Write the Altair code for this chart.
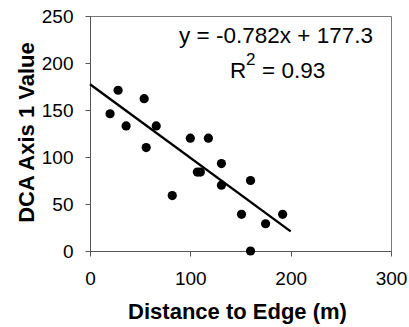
import altair as alt
import pandas as pd

# Scatter data
dist = [20, 28, 36, 54, 56, 66, 82, 100, 107, 110, 118, 131, 131, 151, 160, 160, 175, 192]
dca = [146, 171, 133, 162, 110, 133, 59, 120, 84, 84, 120, 93, 70, 39, 75, 0, 29, 39]

# Fitted trend line endpoints (y = -0.782x + 177.3)
fit_x = [0, 200]
fit_y = [177.3, 20.9]

eq_text = "y = -0.782x + 177.3"
r2_parts = ["R", "2", "= 0.93"]

pts = pd.DataFrame({"x": dist, "y": dca})
fit = pd.DataFrame({"x": fit_x, "y": fit_y})

FONT = "Liberation Sans"

xscale = alt.Scale(domain=[0, 300], nice=False, zero=True)
yscale = alt.Scale(domain=[0, 250], nice=False, zero=True)

xaxis = alt.Axis(
    title="Distance to Edge (m)", values=[0, 100, 200, 300], grid=False,
    tickSize=5, labelPadding=13, labelFontSize=19, labelFont=FONT, labelColor="#000",
    titleFont=FONT, titleFontSize=22, titleFontWeight="bold", titleColor="#000",
    titleX=147, titleY=67, titleBaseline="alphabetic", titleAlign="center",
    domainColor="#555", tickColor="#555", labelFlush=False, labelOverlap=False,
)
yaxis = alt.Axis(
    title="DCA Axis 1 Value", values=[0, 50, 100, 150, 200, 250], grid=False,
    tickSize=5, labelPadding=12, labelFontSize=19, labelFont=FONT, labelColor="#000",
    titleFont=FONT, titleFontSize=22, titleFontWeight="bold", titleColor="#000",
    titleX=-57, titleY=116, titleBaseline="alphabetic", titleAlign="center", titleAngle=-90,
    domainColor="#555", tickColor="#555", labelFlush=False, labelOverlap=False,
)

points = alt.Chart(pts).mark_circle(size=85, color="#000", opacity=1).encode(
    x=alt.X("x:Q", scale=xscale, axis=xaxis),
    y=alt.Y("y:Q", scale=yscale, axis=yaxis),
)

line = alt.Chart(fit).mark_line(color="#000", strokeWidth=2.4).encode(
    x=alt.X("x:Q", scale=xscale),
    y=alt.Y("y:Q", scale=yscale),
)


def label(txt, px, py, size, align="left"):
    return alt.Chart(pd.DataFrame({"t": [txt]})).mark_text(
        font=FONT, fontSize=size, color="#000", align=align, baseline="alphabetic"
    ).encode(x=alt.value(px), y=alt.value(py), text="t:N")


eq1 = label(eq_text, 186, 27, 22.5, align="center")
r_main = label(r2_parts[0], 140, 62, 22.5)
r_sup = label(r2_parts[1], 156, 49, 17)
r_rest = label(r2_parts[2], 172, 62, 22.5)

chart = alt.layer(line, points, eq1, r_main, r_sup, r_rest).properties(
    width=301, height=235,
    autosize=alt.AutoSizeParams(type="none"),
    padding={"left": 90, "top": 16, "right": 18, "bottom": 76},
    background="white",
).configure_view(stroke="#777", strokeWidth=1)

chart.save("out.html", embed_options={"renderer": "svg", "actions": False})
